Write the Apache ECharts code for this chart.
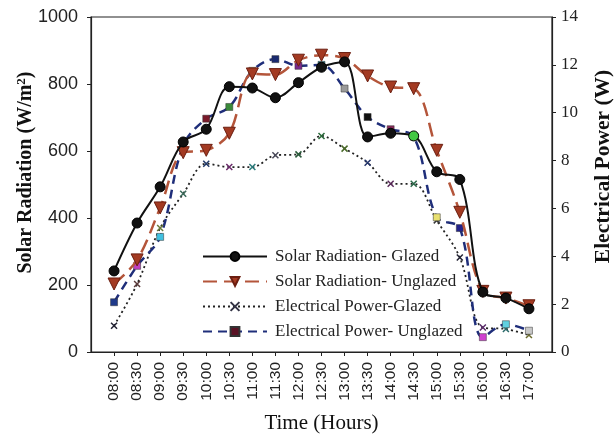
<!DOCTYPE html>
<html>
<head>
<meta charset="utf-8">
<script src="https://cdn.jsdelivr.net/npm/echarts@6/dist/echarts.min.js"></script>
<style>
  html, body { margin: 0; padding: 0; background: #fff; }
  #chart { width: 616px; height: 436px; }
</style>
</head>
<body>
<div id="chart"></div>
<script>
// Half-hourly readings, 08:00 – 17:00
const times = ['08:00','08:30','09:00','09:30','10:00','10:30','11:00','11:30','12:00','12:30',
               '13:00','13:30','14:00','14:30','15:00','15:30','16:00','16:30','17:00'];

// Solar radiation (W/m²)
const solarGlazed   = [242, 385, 493, 627, 665, 792, 788, 759, 804, 850, 866, 642, 653, 645, 538, 515, 179, 161, 129];
const solarUnglazed = [203, 275, 430, 595, 602, 653, 830, 828, 871, 886, 876, 824, 791, 786, 602, 417, 181, 161, 138];

// Electrical power (W)
const powerGlazed   = [1.10, 2.84, 5.18, 6.61, 7.87, 7.73, 7.73, 8.22, 8.26, 9.03, 8.50, 7.91, 7.03, 7.03, 5.50, 3.95, 1.02, 0.96, 0.71];
const powerUnglazed = [2.08, 3.60, 4.81, 8.63, 9.75, 10.24, 11.75, 12.24, 11.96, 12.00, 11.01, 9.82, 9.31, 9.00, 5.63, 5.18, 0.62, 1.16, 0.89];

const leftTicks  = { min: 0, max: 1000, step: 200 };
const rightTicks = { min: 0, max: 14, step: 2 };

// marker fills cycle through a mixed palette, point by point
const squareFills = ['#1f3a8a','#c040c0','#40c0e0','#d0d0d0','#7a1a2a','#3a8a3a','#b0a060','#1a2a70','#7a2a8a',
                     '#2a7a8a','#9a9a9a','#111111','#8a2a5a','#3a8a3a','#e8e070','#22228a','#d040d0','#60d0e0','#c8c8c8'];
const crossStrokes = ['#223','#5a3a3a','#6a7a3a','#3a6a5a','#223a6a','#6a2a6a','#2a7a7a','#4a4a5a','#2a5a3a',
                      '#2a6a3a','#4a6a2a','#22336a','#5a2a5a','#2a6a4a','#3a3a3a','#223','#5a2a6a','#2a6a6a','#6a6a2a'];

// pad one empty slot on each side so points sit one step in from the frame
const cats = [''].concat(times, ['']);
const pad = arr => [null].concat(arr, [null]);

const serif = '"Liberation Serif", "DejaVu Serif", serif';
const sans = '"Liberation Sans", Arial, sans-serif';
const crossSymbol = 'path://M0,0L10,10M10,0L0,10';

const glazedPoints = pad(solarGlazed).map((v, i) =>
  times[i - 1] === '14:30' ? { value: v, itemStyle: { color: '#44c844' } } : v);
const squarePoints = pad(powerUnglazed).map((v, i) =>
  v === null ? v : { value: v, itemStyle: { color: squareFills[i - 1] } });
const crossPoints = pad(powerGlazed).map((v, i) =>
  v === null ? v : { value: v, itemStyle: { borderColor: crossStrokes[i - 1] } });

const chart = echarts.init(document.getElementById('chart'), null, { renderer: 'canvas' });
chart.setOption({
  animation: false,
  backgroundColor: '#fff',
  grid: { left: 91, right: 64, top: 17, bottom: 84, show: true, borderColor: '#222', borderWidth: 1.2,
          containLabel: false, outerBoundsMode: 'none' },
  legend: {
    left: 197, top: 243, orient: 'vertical', itemWidth: 64, itemHeight: 11, itemGap: 8,
    textStyle: { fontFamily: serif, fontSize: 17, color: '#222', padding: [0, 0, 0, 3] },
    data: ['Solar Radiation- Glazed', 'Solar Radiation- Unglazed', 'Electrical Power-Glazed', 'Electrical Power- Unglazed']
  },
  xAxis: {
    type: 'category', data: cats, boundaryGap: false,
    name: 'Time (Hours)', nameLocation: 'middle', nameGap: 61, nameMoveOverlap: false,
    nameTextStyle: { fontFamily: serif, fontSize: 21, color: '#111' },
    axisLine: { lineStyle: { color: '#222', width: 1.2 } },
    axisTick: { length: 4, lineStyle: { color: '#222' }, interval: (i, v) => v !== '' },
    axisLabel: { rotate: 90, interval: 0, fontFamily: sans, fontSize: 15.5, color: '#222', margin: 10 },
    splitLine: { show: false }
  },
  yAxis: [
    {
      type: 'value', min: leftTicks.min, max: leftTicks.max, interval: leftTicks.step,
      name: 'Solar Radiation (W/m{sup|2})', nameLocation: 'middle', nameGap: 55, nameMoveOverlap: false,
      nameTextStyle: {
        fontFamily: serif, fontSize: 20, fontWeight: 'bold', color: '#111', padding: [0, 0, 0, 24],
        rich: { sup: { fontFamily: serif, fontSize: 13, fontWeight: 'bold', color: '#111', verticalAlign: 'top', padding: [0, 0, 8, 0] } }
      },
      axisLine: { show: true, lineStyle: { color: '#222', width: 1.2 } },
      axisTick: { show: true, length: 4, lineStyle: { color: '#222' } },
      axisLabel: { fontFamily: sans, fontSize: 18, color: '#222', margin: 13, formatter: v => String(v) },
      splitLine: { show: false }
    },
    {
      type: 'value', min: rightTicks.min, max: rightTicks.max, interval: rightTicks.step,
      name: 'Electrical Power (W)', nameLocation: 'middle', nameGap: 40, nameRotate: 90, nameMoveOverlap: false,
      nameTextStyle: { fontFamily: serif, fontSize: 21.5, fontWeight: 'bold', color: '#111', padding: [0, 0, 0, 36] },
      axisLine: { show: true, lineStyle: { color: '#222', width: 1.2 } },
      axisTick: { show: true, length: 4, lineStyle: { color: '#222' } },
      axisLabel: { fontFamily: serif, fontSize: 17, color: '#222', margin: 9 },
      splitLine: { show: false }
    }
  ],
  series: [
    {
      name: 'Solar Radiation- Glazed', type: 'line', yAxisIndex: 0, data: glazedPoints,
      smooth: 0.35, symbol: 'circle', symbolSize: 10, z: 5,
      lineStyle: { color: '#111', width: 2 },
      itemStyle: { color: '#111', borderColor: '#000', borderWidth: 1 }
    },
    {
      name: 'Solar Radiation- Unglazed', type: 'line', yAxisIndex: 0, data: pad(solarUnglazed),
      smooth: 0.35, symbol: 'triangle', symbolRotate: 180, symbolSize: 12, z: 4,
      lineStyle: { color: '#b4553a', width: 2.5, type: [14, 7] },
      itemStyle: { color: '#a33a22', borderColor: '#6b1e10', borderWidth: 1 }
    },
    {
      name: 'Electrical Power-Glazed', type: 'line', yAxisIndex: 1, data: crossPoints,
      smooth: 0.35, symbol: crossSymbol, symbolSize: 6, z: 3,
      lineStyle: { color: '#222', width: 1.8, type: [2, 3] },
      itemStyle: { color: 'transparent', borderColor: '#334', borderWidth: 1.5 }
    },
    {
      name: 'Electrical Power- Unglazed', type: 'line', yAxisIndex: 1, data: squarePoints,
      smooth: 0.35, symbol: 'rect', symbolSize: 7, z: 3,
      lineStyle: { color: '#1f2e7a', width: 2.5, type: [9, 6] },
      itemStyle: { color: '#5a1224', borderColor: '#333', borderWidth: 0.5 }
    }
  ]
});
</script>
</body>
</html>
